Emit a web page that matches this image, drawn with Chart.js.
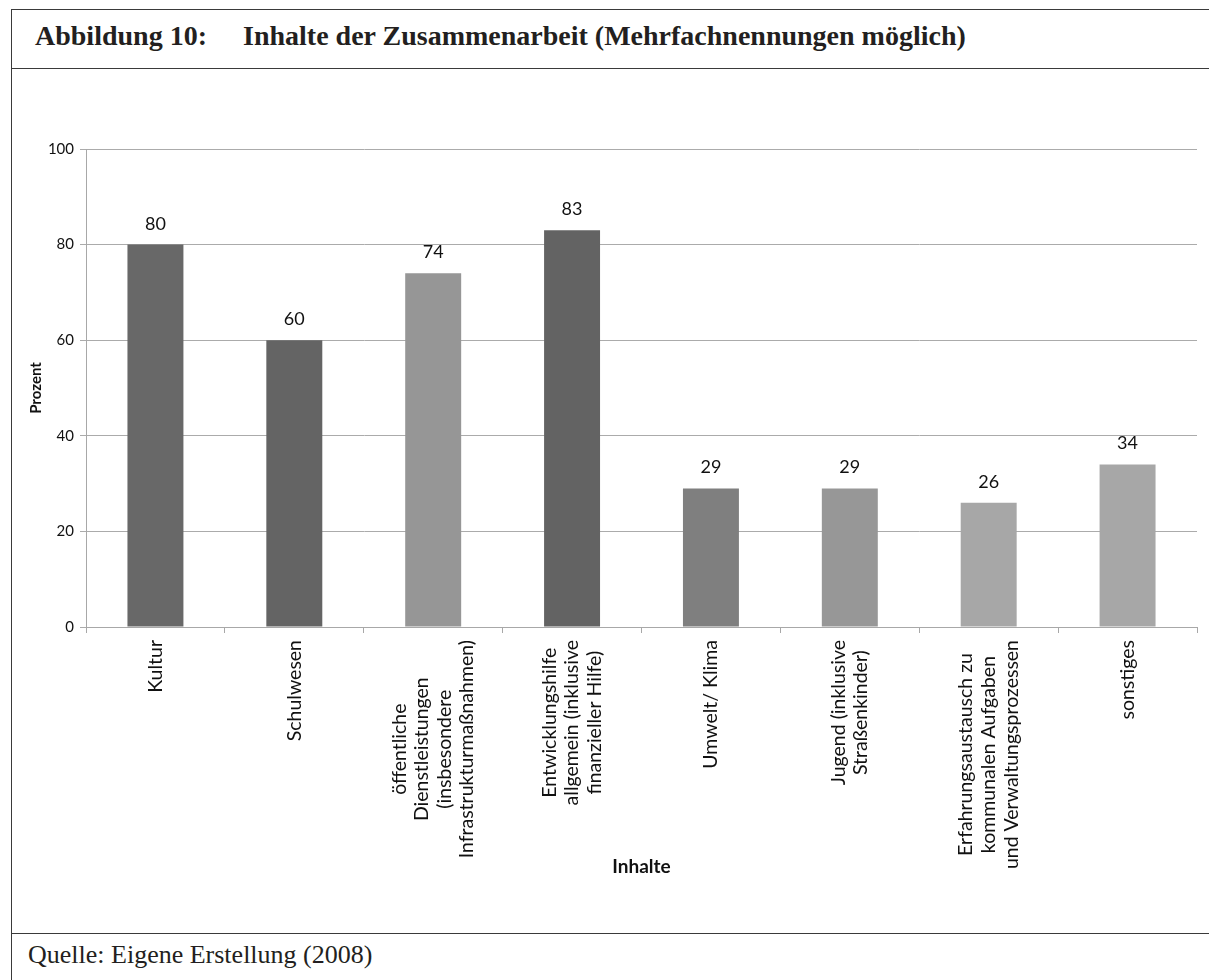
<!DOCTYPE html>
<html>
<head>
<meta charset="utf-8">
<script src="https://cdn.jsdelivr.net/npm/chart.js@4.4.1/dist/chart.umd.min.js"></script>
<style>
  html, body { margin: 0; padding: 0; background: #fff; }
  body { width: 1209px; height: 980px; position: relative; overflow: hidden; }
  .hline { position: absolute; left: 11px; right: 0; height: 0; border-top: 1.5px solid #3a3a3a; }
  .vline { position: absolute; left: 11px; top: 9px; bottom: 0; width: 0; border-left: 1.5px solid #3a3a3a; }
  #title {
    position: absolute; left: 35px; top: 20px;
    font-family: "Liberation Serif", "Times New Roman", serif;
    font-weight: bold; font-size: 28px; color: #231f20; white-space: nowrap;
  }
  #title .num { display: inline-block; width: 208px; }
  #source {
    position: absolute; left: 28px; top: 940px;
    font-family: "Liberation Serif", "Times New Roman", serif;
    font-size: 26px; color: #231f20; white-space: nowrap;
  }
  #wrap { position: absolute; left: 12px; top: 69px; width: 1197px; height: 864px; }
</style>
</head>
<body>
<div class="hline" style="top:9px"></div>
<div class="vline"></div>
<div class="hline" style="top:68px"></div>
<div class="hline" style="top:933px"></div>
<div id="title"><span class="num">Abbildung 10:</span>Inhalte der Zusammenarbeit (Mehrfachnennungen möglich)</div>
<div id="wrap"><canvas id="myChart"></canvas></div>
<div id="source">Quelle: Eigene Erstellung (2008)</div>

<script>
// Kategorien (mehrzeilig wie im Original)
const categories = [
    ['Kultur'],
    ['Schulwesen'],
    ['öffentliche', 'Dienstleistungen', '(insbesondere', 'Infrastrukturmaßnahmen)'],
    ['Entwicklungshilfe', 'allgemein (inklusive', 'finanzieller Hilfe)'],
    ['Umwelt/ Klima'],
    ['Jugend (inklusive', 'Straßenkinder)'],
    ['Erfahrungsaustausch zu', 'kommunalen Aufgaben', 'und Verwaltungsprozessen'],
    ['sonstiges']
];
const values = [80, 60, 74, 83, 29, 29, 26, 34];
const barColors = ['#686868', '#646464', '#969696', '#636363', '#7f7f7f', '#979797', '#a7a7a7', '#a7a7a7'];
const yTicks = [0, 20, 40, 60, 80, 100];

const FONT = 'Lato, "Open Sans", sans-serif';

// Werte über den Balken + zentrierte, gedrehte Achsenbeschriftung
const labelPlugin = {
    id: 'labelPlugin',
    afterDatasetsDraw(chart) {
        const ctx = chart.ctx;
        const meta = chart.getDatasetMeta(0);
        ctx.save();
        ctx.fillStyle = '#111';
        ctx.font = '18px ' + FONT;
        ctx.textAlign = 'center';
        ctx.textBaseline = 'alphabetic';
        meta.data.forEach((bar, i) => {
            ctx.fillText(String(values[i]), bar.x, bar.y - 15);
        });

        const xs = chart.scales.x;
        const lineH = 22.6;
        ctx.font = '19.5px ' + FONT;
        ctx.textBaseline = 'middle';
        categories.forEach((lines, i) => {
            const x = xs.getPixelForTick(i);
            let w = 0;
            lines.forEach(l => { w = Math.max(w, ctx.measureText(l).width); });
            const yc = xs.top + 13 + w / 2;
            ctx.save();
            ctx.translate(x, yc);
            ctx.rotate(-Math.PI / 2);
            lines.forEach((l, j) => {
                ctx.fillText(l, 0, (j - (lines.length - 1) / 2) * lineH);
            });
            ctx.restore();
        });
        ctx.restore();
    }
};

const barData = {
    labels: categories.map(c => c.join(' ')),
    datasets: [{
        data: values,
        backgroundColor: barColors,
        borderWidth: 0,
        barPercentage: 0.403,
        categoryPercentage: 1.0
    }]
};

const barConfig = {
    type: 'bar',
    data: barData,
    options: {
        responsive: true,
        maintainAspectRatio: false,
        animation: false,
        layout: { padding: { top: 80, right: 12, left: 0, bottom: 0 } },
        plugins: {
            legend: { display: false },
            tooltip: { enabled: false }
        },
        scales: {
            x: {
                grid: {
                    offset: true,
                    drawOnChartArea: false,
                    drawTicks: true,
                    tickLength: 6,
                    color: '#a8a8a8'
                },
                border: { display: true, color: '#a8a8a8', width: 1 },
                ticks: { display: false },
                title: {
                    display: true,
                    text: 'Inhalte',
                    color: '#111',
                    font: { family: FONT, size: 19, weight: 'bold' },
                    padding: { top: 0, bottom: 55 }
                },
                afterFit(scale) { scale.height = 306; }
            },
            y: {
                min: 0,
                max: 100,
                afterBuildTicks(scale) { scale.ticks = yTicks.map(v => ({ value: v })); },
                grid: {
                    color: '#ababab',
                    lineWidth: 1,
                    drawTicks: true,
                    tickLength: 6
                },
                border: { display: true, color: '#a8a8a8', width: 1 },
                ticks: {
                    color: '#111',
                    padding: 6,
                    font: { family: FONT, size: 15 }
                },
                title: {
                    display: true,
                    text: 'Prozent',
                    color: '#111',
                    font: { family: FONT, size: 15, weight: 'bold' },
                    padding: { top: 15, bottom: 0 }
                },
                afterFit(scale) { scale.width = 74; }
            }
        }
    },
    plugins: [labelPlugin]
};

// Diagramm erstellen
var barChart = new Chart(document.getElementById('myChart'), barConfig);
</script>
</body>
</html>
